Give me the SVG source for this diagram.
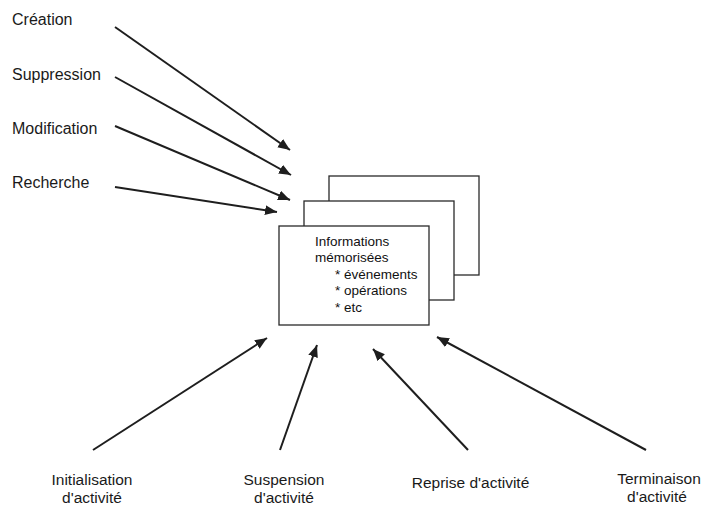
<svg xmlns="http://www.w3.org/2000/svg" width="708" height="508" viewBox="0 0 708 508">
<style>
.lbl{font-family:"Liberation Sans",Arial,sans-serif;font-size:15.5px;fill:#1a1a1a}
.top{font-size:16px}
.box{fill:#fff;stroke:#2a2a2a;stroke-width:1.3}
.btxt{font-family:"Liberation Sans",Arial,sans-serif;font-size:13.5px;fill:#111}
.arr{stroke:#1e1e1e;stroke-width:2;fill:none;marker-end:url(#ah)}
</style>
<defs>
<marker id="ah" markerUnits="userSpaceOnUse" markerWidth="13" markerHeight="11" refX="12" refY="5" orient="auto">
<path d="M0,0 L12,5 L0,10 z" fill="#1e1e1e"/>
</marker>
</defs>
<rect width="708" height="508" fill="#fff"/>
<g id="memoire">
<rect class="box" x="329" y="176" width="150" height="99"/>
<rect class="box" x="304" y="201" width="150" height="99"/>
<rect class="box" x="279" y="226" width="150" height="99"/>
<text class="btxt" x="315" y="246">Informations</text>
<text class="btxt" x="315" y="262">mémorisées</text>
<text class="btxt" x="335" y="279">* événements</text>
<text class="btxt" x="335" y="295">* opérations</text>
<text class="btxt" x="335" y="312">* etc</text>
</g>
<g id="creation"><text class="lbl top" x="12" y="25">Création</text></g>
<g id="suppression"><text class="lbl top" x="12" y="80">Suppression</text></g>
<g id="modification"><text class="lbl top" x="12" y="134">Modification</text></g>
<g id="recherche"><text class="lbl top" x="12" y="188">Recherche</text></g>
<g id="initialisation"><text class="lbl" x="92" y="485" text-anchor="middle">Initialisation</text><text class="lbl" x="92" y="503" text-anchor="middle">d'activité</text></g>
<g id="suspension"><text class="lbl" x="284" y="485" text-anchor="middle">Suspension</text><text class="lbl" x="284" y="503" text-anchor="middle">d'activité</text></g>
<g id="reprise"><text class="lbl" x="470.5" y="488" text-anchor="middle">Reprise d'activité</text></g>
<g id="terminaison"><text class="lbl" x="659" y="484" text-anchor="middle">Terminaison</text><text class="lbl" x="657" y="502" text-anchor="middle">d'activité</text></g>
<g id="connectors">
<line class="arr" x1="115" y1="27" x2="290" y2="150"/>
<line class="arr" x1="115" y1="77" x2="291" y2="175"/>
<line class="arr" x1="115" y1="126" x2="290" y2="200"/>
<line class="arr" x1="115" y1="187" x2="277" y2="212"/>
<line class="arr" x1="93" y1="450" x2="267" y2="338"/>
<line class="arr" x1="280" y1="450" x2="317" y2="345"/>
<line class="arr" x1="468" y1="450" x2="373" y2="349"/>
<line class="arr" x1="646" y1="450" x2="437" y2="337"/>
</g>
</svg>
